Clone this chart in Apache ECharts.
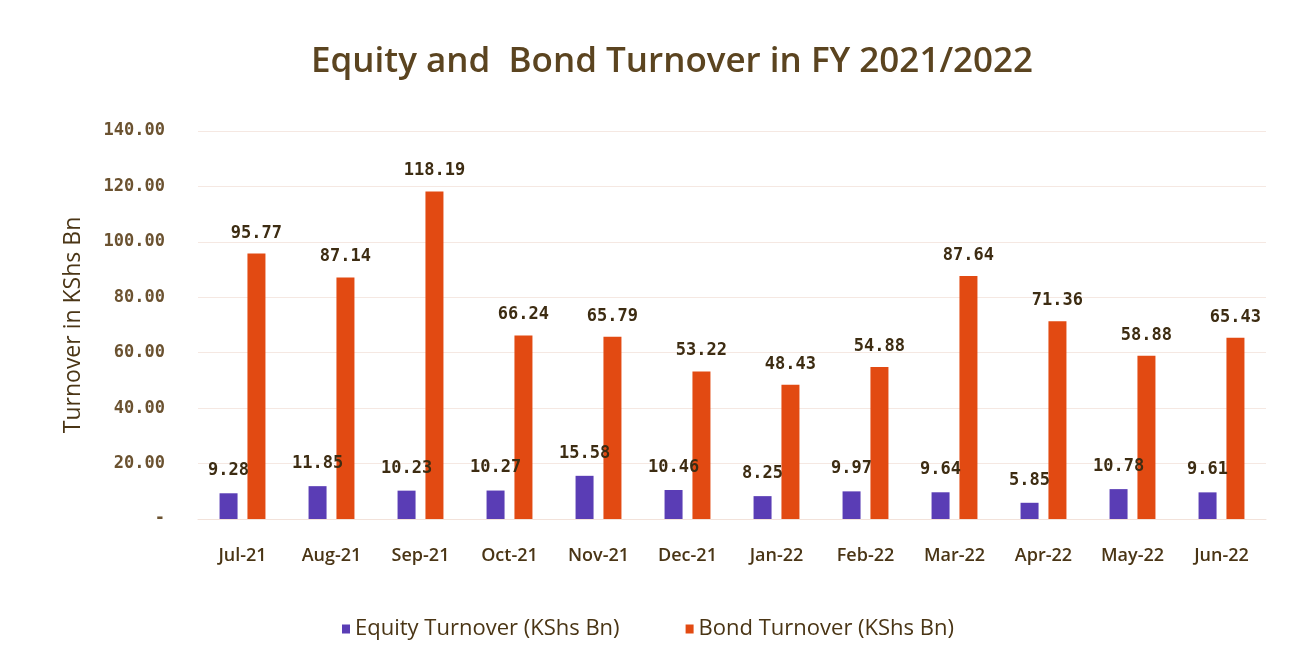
<!DOCTYPE html>
<html>
<head>
<meta charset="utf-8">
<script src="https://cdn.jsdelivr.net/npm/echarts@6/dist/echarts.min.js"></script>
<style>
  html, body { margin: 0; padding: 0; background: #fff; }
  #chart { width: 1296px; height: 658px; }
</style>
</head>
<body>
<div id="chart"></div>
<script>
// months of FY 2021/2022
var months = ['Jul-21', 'Aug-21', 'Sep-21', 'Oct-21', 'Nov-21', 'Dec-21', 'Jan-22', 'Feb-22', 'Mar-22', 'Apr-22', 'May-22', 'Jun-22']
var equityTurnover = [9.28, 11.85, 10.23, 10.27, 15.58, 10.46, 8.25, 9.97, 9.64, 5.85, 10.78, 9.61]
var bondTurnover = [95.77, 87.14, 118.19, 66.24, 65.79, 53.22, 48.43, 54.88, 87.64, 71.36, 58.88, 65.43]

var brown = '#4a3515'
var labelFont = 'DejaVu Sans Mono'

var chart = echarts.init(document.getElementById('chart'))
chart.setOption({
  animation: false,
  title: {
    text: 'Equity and  Bond Turnover in FY 2021/2022',
    left: 306,
    top: 40,
    textStyle: {
      fontFamily: 'Open Sans',
      fontSize: 35,
      fontWeight: 600,
      color: '#5b4420'
    }
  },
  grid: {
    left: 198,
    right: 30,
    top: 131,
    bottom: 139
  },
  legend: {
    bottom: 13,
    left: 'center',
    itemWidth: 8,
    itemHeight: 9,
    itemGap: 66,
    icon: 'rect',
    textStyle: {
      fontFamily: 'Open Sans',
      fontSize: 22,
      color: brown
    }
  },
  xAxis: {
    type: 'category',
    data: months,
    axisTick: { show: false },
    axisLine: { lineStyle: { color: '#f2e2da' } },
    axisLabel: {
      margin: 28,
      fontFamily: 'Open Sans',
      fontSize: 18,
      fontWeight: 600,
      color: brown
    }
  },
  yAxis: {
    type: 'value',
    min: 0,
    max: 140,
    interval: 20,
    name: 'Turnover in KShs Bn',
    nameLocation: 'middle',
    nameGap: 113,
    nameTextStyle: {
      fontFamily: 'Open Sans',
      fontSize: 23,
      color: brown
    },
    splitLine: { lineStyle: { color: '#f5e8e2' } },
    axisLabel: {
      margin: 33,
      fontFamily: labelFont,
      fontSize: 17,
      fontWeight: 'bold',
      color: '#6b5230',
      formatter: function (v) {
        return v === 0 ? '-' : v.toFixed(2)
      }
    }
  },
  series: [
    {
      name: 'Equity Turnover (KShs Bn)',
      type: 'bar',
      data: equityTurnover,
      barWidth: 18,
      barGap: '55%',
      itemStyle: { color: '#5a3db5' },
      label: {
        show: true,
        position: 'top',
        distance: 14,
        fontFamily: labelFont,
        fontSize: 17,
        fontWeight: 'bold',
        color: '#3d2c12',
        formatter: function (p) { return p.value.toFixed(2) }
      }
    },
    {
      name: 'Bond Turnover (KShs Bn)',
      type: 'bar',
      data: bondTurnover,
      barWidth: 18,
      itemStyle: { color: '#e24a12' },
      label: {
        show: true,
        position: 'top',
        distance: 12,
        fontFamily: labelFont,
        fontSize: 17,
        fontWeight: 'bold',
        color: '#3d2c12',
        formatter: function (p) { return p.value.toFixed(2) }
      }
    }
  ]
})
</script>
</body>
</html>
